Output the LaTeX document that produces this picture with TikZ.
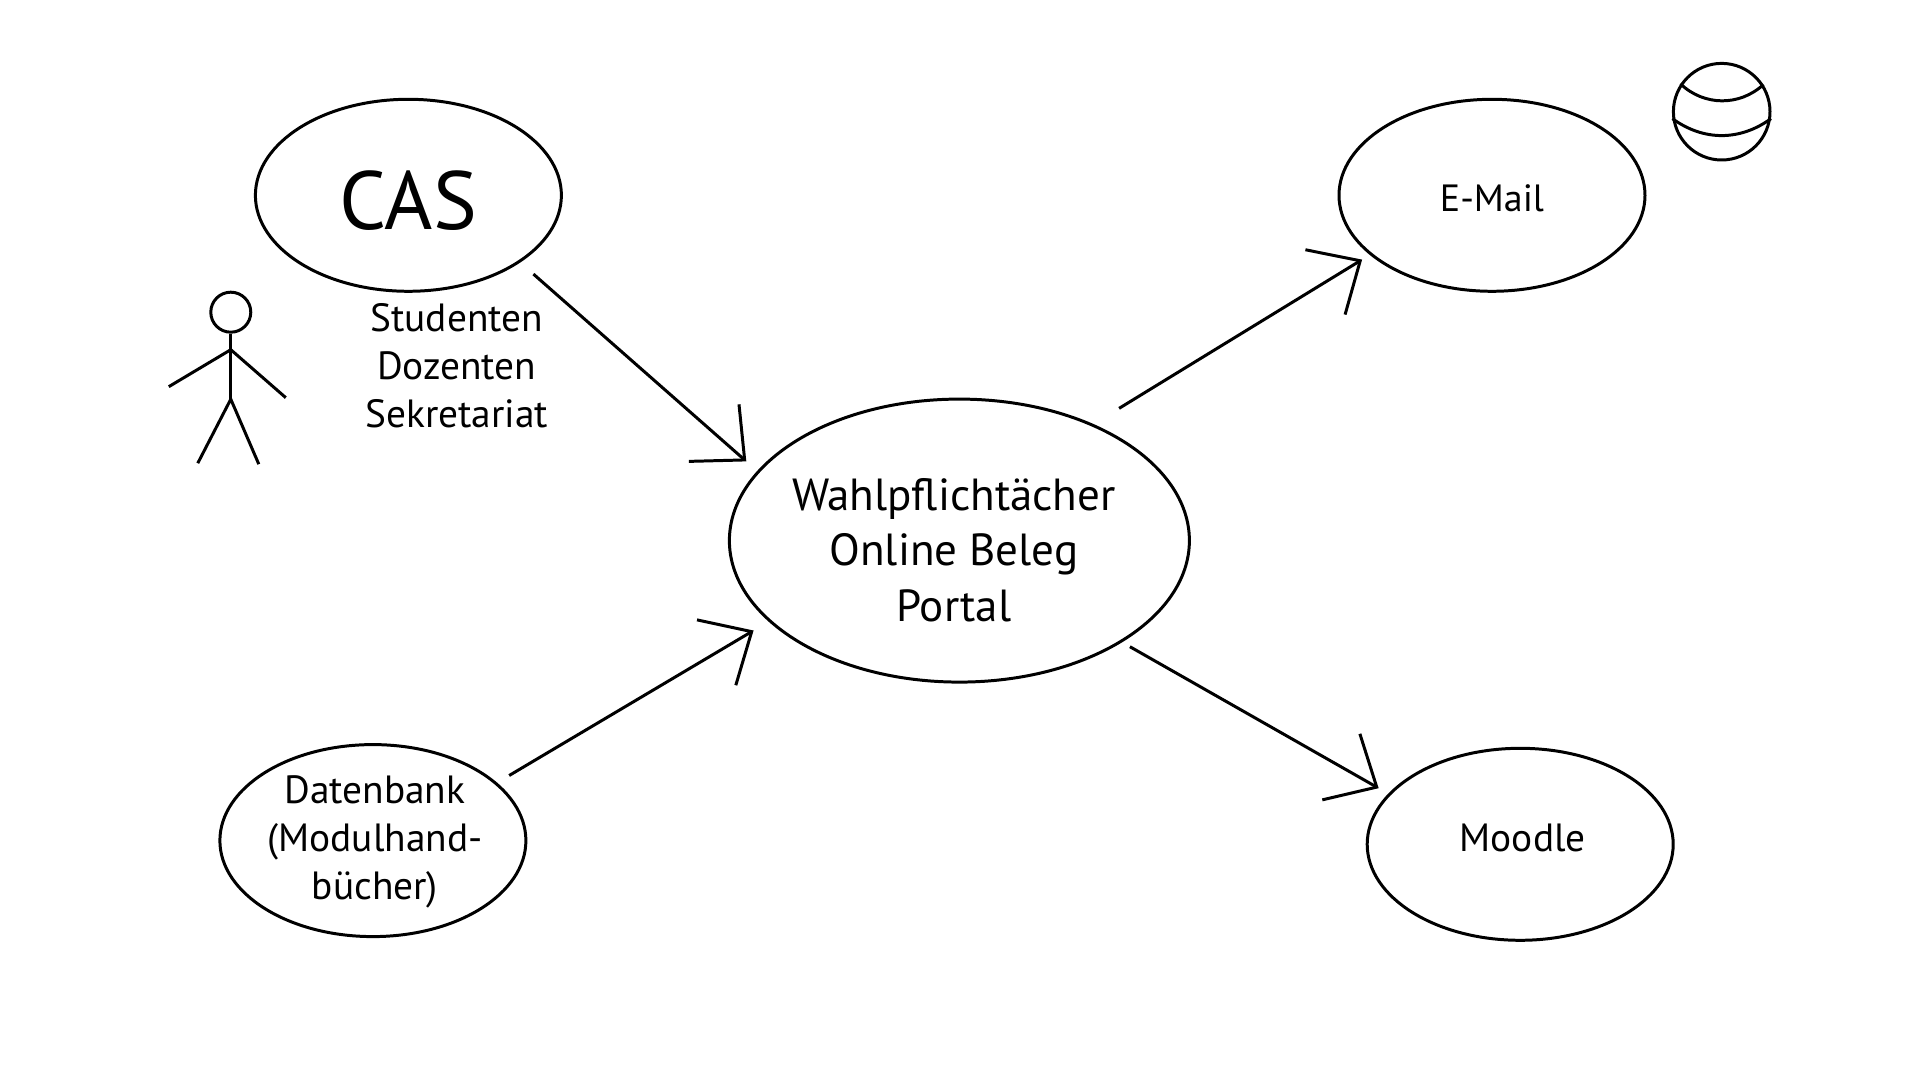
\documentclass[tikz,border=0pt]{standalone}
\usepackage{fontspec}
\setmainfont{PT Sans}
\usetikzlibrary{arrows.meta, positioning, shapes.geometric}

\begin{document}
\begin{tikzpicture}[on grid]
  \tikzset{
    usecase/.style={ellipse, draw=black, line width=0.85pt, inner sep=0pt,
      minimum width=3.06cm, minimum height=1.92cm},
    bigcase/.style={usecase, minimum width=4.6cm, minimum height=2.83cm},
    casetext/.style={align=center, inner sep=0pt, font=\fontsize{12.8}{15.7}\selectfont},
    smalltext/.style={align=center, inner sep=0pt, font=\fontsize{11.2}{13.7}\selectfont},
    arr/.style={-{Straight Barb[length=0.41cm, width=0.76cm]}, line width=0.85pt},
    stick/.style={line width=0.85pt, draw=black},
  }
  \useasboundingbox (-9.594,-5.394) rectangle (9.606,5.406);
  \node[bigcase, label={[casetext, xshift=-0.055cm, yshift=-0.095cm]center:{Wahlpflichtächer\\Online Beleg\\Portal}}] (portal) {};
  \node[usecase, above left=3.453cm and 5.51cm of portal,
    label={[smalltext, font=\fontsize{23.5}{25}\selectfont, yshift=-0.05cm]center:{CAS}}] (cas) {};
  \node[usecase, above right=3.453cm and 5.326cm of portal,
    label={[smalltext, font=\fontsize{10.8}{13}\selectfont, yshift=-0.03cm]center:{E-Mail}}] (email) {};
  \node[usecase, below left=3.0cm and 5.865cm of portal,
    label={[smalltext, xshift=0.02cm, yshift=-0.012cm]center:{Datenbank\\(Modulhand-\\bücher)}}] (datenbank) {};
  \node[usecase, below right=3.037cm and 5.608cm of portal,
    label={[smalltext, xshift=0.025cm, yshift=0.06cm]center:{Moodle}}] (moodle) {};
  \node[smalltext, below right=1.705cm and 0.483cm of cas] (rollen) {Studenten\\Dozenten\\Sekretariat};
  % actor
  \node[circle, stick, minimum size=0.4cm, inner sep=0pt, below left=1.169cm and 1.776cm of cas] (head) {};
  \coordinate (shoulder) at ([yshift=-0.16cm]head.south);
  \coordinate (hip) at ([yshift=-0.655cm]head.south);
  \draw[stick] (head.south) -- (hip);
  \draw[stick] ([shift={(-0.62,-0.37)}]shoulder) -- (shoulder) -- ([shift={(0.55,-0.48)}]shoulder);
  \draw[stick] ([shift={(-0.33,-0.64)}]hip) -- (hip) -- ([shift={(0.28,-0.65)}]hip);
  % globe
  \node[circle, stick, minimum size=0.966cm, inner sep=0pt, above right=0.836cm and 2.297cm of email] (globe) {};
  \draw[stick] (globe.146) to[bend right=43] (globe.33);
  \draw[stick] (globe.188.7) to[bend right=36] (globe.-8.7);
  % connectors
  \draw[arr, shorten <=0.175cm, shorten >=0.145cm] (cas.-31) -- (portal.161.2);
  \draw[arr, shorten <=0.30cm, shorten >=0.09cm] (portal.41) -- (email.206.2);
  \draw[arr, shorten <=0.14cm, shorten >=0.175cm] (datenbank.25.2) -- (portal.203);
  \draw[arr, shorten <=0.09cm, shorten >=0.11cm] (portal.-32.6) -- (moodle.159.4);
\end{tikzpicture}
\end{document}
